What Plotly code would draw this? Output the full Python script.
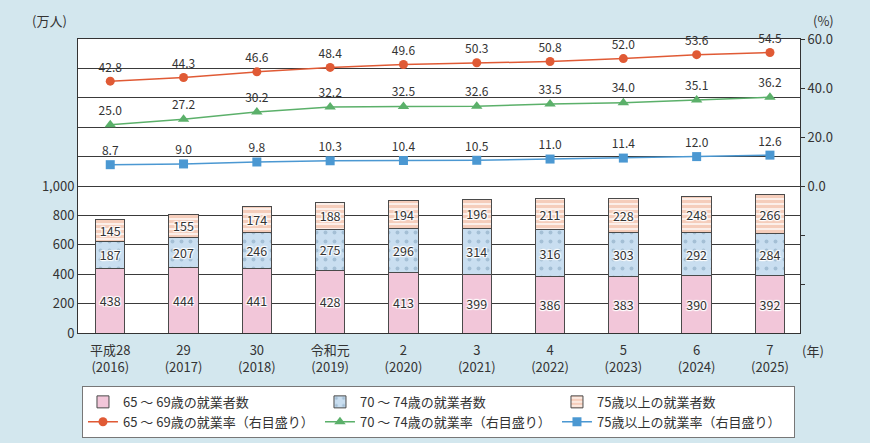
import plotly.graph_objects as go

categories = ["平成28<br>(2016)", "29<br>(2017)", "30<br>(2018)", "令和元<br>(2019)", "2<br>(2020)",
              "3<br>(2021)", "4<br>(2022)", "5<br>(2023)", "6<br>(2024)", "7<br>(2025)"]

workers_65_69 = [438, 444, 441, 428, 413, 399, 386, 383, 390, 392]
workers_70_74 = [187, 207, 246, 275, 296, 314, 316, 303, 292, 284]
workers_75_plus = [145, 155, 174, 188, 194, 196, 211, 228, 248, 266]

rate_65_69 = [42.8, 44.3, 46.6, 48.4, 49.6, 50.3, 50.8, 52.0, 53.6, 54.5]
rate_70_74 = [25.0, 27.2, 30.2, 32.2, 32.5, 32.6, 33.5, 34.0, 35.1, 36.2]
rate_75_plus = [8.7, 9.0, 9.8, 10.3, 10.4, 10.5, 11.0, 11.4, 12.0, 12.6]

left_ticks = [0, 200, 400, 600, 800, 1000, 1200, 1400, 1600, 1800]
left_ticktext = ["0", "200", "400", "600", "800", "1,000", "", "", "", ""]
right_ticks = [-40, -20, 0, 20, 40, 60]
right_ticktext = ["", "", "0.0", "20.0", "40.0", "60.0"]

FONT = "Noto Sans CJK JP"
TXT = "#333333"
halo = "1px 1px 1px #fff, -1px -1px 1px #fff, 1px -1px 1px #fff, -1px 1px 1px #fff, 0 0 2px #fff"

x = list(range(len(categories)))

fig = go.Figure()

bar_common = dict(width=0.4, textposition="inside", insidetextanchor="middle",
                  textfont=dict(family=FONT, size=12.5, color=TXT, shadow=halo),
                  constraintext="none", cliponaxis=False)

fig.add_trace(go.Bar(
    x=x, y=workers_65_69, name="65 ～ 69歳の就業者数", text=workers_65_69,
    marker=dict(color="#f2c6d9", line=dict(color="#4a4a4a", width=1)),
    **bar_common))
fig.add_trace(go.Bar(
    x=x, y=workers_70_74, name="70 ～ 74歳の就業者数", text=workers_70_74,
    marker=dict(color="#c9def0", line=dict(color="#4a4a4a", width=1),
                pattern=dict(shape=".", bgcolor="#c9def0", fgcolor="#7f9fba", size=9, solidity=0.15)),
    **bar_common))
fig.add_trace(go.Bar(
    x=x, y=workers_75_plus, name="75歳以上の就業者数", text=workers_75_plus,
    marker=dict(color="#efb9a1", line=dict(color="#4a4a4a", width=1),
                pattern=dict(shape="-", bgcolor="#fcefe9", fgcolor="#eeab8e", size=5, solidity=0.6)),
    **bar_common))

line_common = dict(mode="lines+markers+text", textposition="top center", yaxis="y2",
                   textfont=dict(family=FONT, size=12, color=TXT), cliponaxis=False)

fig.add_trace(go.Scatter(
    x=x, y=rate_65_69, name="65 ～ 69歳の就業率（右目盛り）",
    text=[f"{v:.1f}" for v in rate_65_69],
    line=dict(color="#e05a35", width=1.5),
    marker=dict(symbol="circle", size=9, color="#e05a35"), **line_common))
fig.add_trace(go.Scatter(
    x=x, y=rate_70_74, name="70 ～ 74歳の就業率（右目盛り）",
    text=[f"{v:.1f}" for v in rate_70_74],
    line=dict(color="#5bb06a", width=1.5),
    marker=dict(symbol="triangle-up", size=10, color="#5bb06a"), **line_common))
fig.add_trace(go.Scatter(
    x=x, y=rate_75_plus, name="75歳以上の就業率（右目盛り）",
    text=[f"{v:.1f}" for v in rate_75_plus],
    line=dict(color="#4b98d2", width=1.5),
    marker=dict(symbol="square", size=9, color="#4b98d2"), **line_common))

fig.update_layout(
    width=870, height=443,
    margin=dict(l=78, r=70, t=39, b=110, autoexpand=False),
    paper_bgcolor="#d3e7ee",
    plot_bgcolor="#ffffff",
    barmode="stack",
    bargap=0.6,
    font=dict(family=FONT, size=13, color=TXT),
    showlegend=True,
    legend=dict(orientation="h", x=0.0055, xanchor="left", y=-0.18, yanchor="top",
                bgcolor="#ffffff", bordercolor="#777777", borderwidth=1,
                font=dict(family=FONT, size=13, color=TXT),
                entrywidth=192, entrywidthmode="pixels", traceorder="normal",
                itemwidth=30, tracegroupgap=0),
    xaxis=dict(range=[-0.44, 9.41], tickmode="array", tickvals=x, ticktext=categories,
               showgrid=False, showline=True, mirror=True, linecolor="#333333", linewidth=1,
               ticks="", ticklabelstandoff=5,
               tickfont=dict(family=FONT, size=13, color=TXT), fixedrange=True),
    yaxis=dict(range=[0, 2000], tickmode="array", tickvals=left_ticks, ticktext=left_ticktext,
               showgrid=True, gridcolor="#3a3a3a", gridwidth=1, zeroline=False,
               showline=True, mirror=True, linecolor="#333333", linewidth=1,
               ticks="", tickfont=dict(family=FONT, size=13, color=TXT)),
    yaxis2=dict(range=[-60, 60], overlaying="y", side="right", tickmode="array",
                tickvals=right_ticks, ticktext=right_ticktext, showgrid=False, zeroline=False,
                ticks="outside", ticklen=4, tickcolor="#333333", showline=False,
                tickfont=dict(family=FONT, size=13, color=TXT)),
    annotations=[
        dict(text="(万人)", xref="paper", yref="paper", x=-0.039, y=1.062, showarrow=False,
             xanchor="center", yanchor="middle", font=dict(family=FONT, size=13, color=TXT)),
        dict(text="(%)", xref="paper", yref="paper", x=1.033, y=1.062, showarrow=False,
             xanchor="center", yanchor="middle", font=dict(family=FONT, size=13, color=TXT)),
        dict(text="(年)", xref="paper", yref="paper", x=1.018, y=-0.058, showarrow=False,
             xanchor="center", yanchor="middle", font=dict(family=FONT, size=13, color=TXT)),
    ],
)

fig.write_html("out.html")
